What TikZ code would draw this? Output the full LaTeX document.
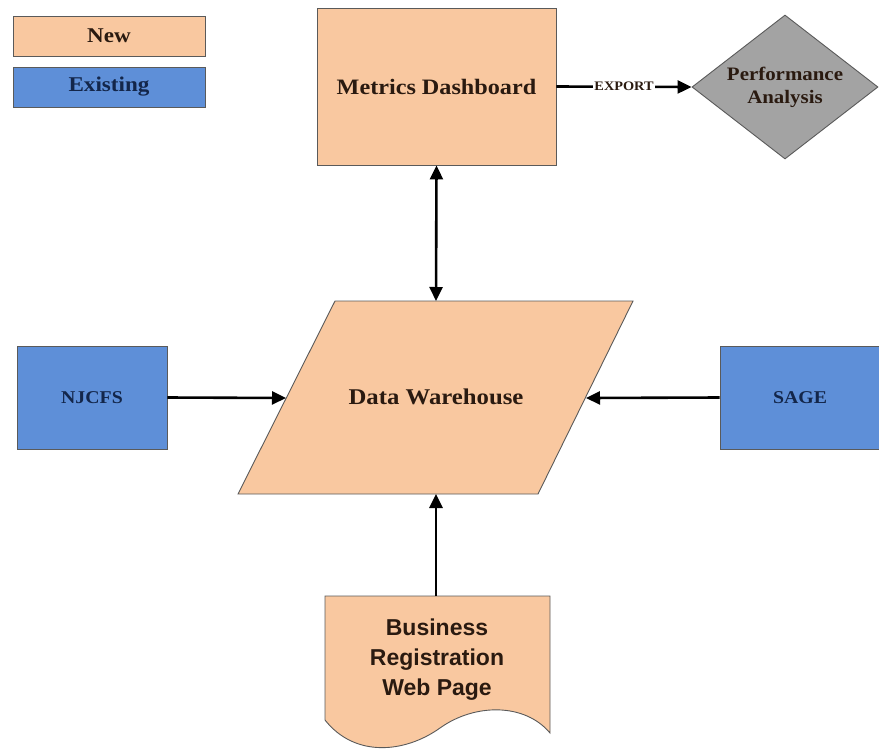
\documentclass[tikz,border=0pt]{standalone}
\usepackage{fontspec}
\setmainfont{Liberation Serif}[FakeStretch=1.1]
\newfontfamily\docsans{Liberation Sans}
\usetikzlibrary{arrows.meta,shapes.geometric}

\definecolor{peach}{HTML}{F9C8A0}
\definecolor{existblue}{HTML}{5E8FD8}
\definecolor{diagray}{HTML}{A3A3A3}
\definecolor{edgegray}{HTML}{5A5A5A}
\definecolor{darktext}{HTML}{2A1A10}
\definecolor{navytext}{HTML}{13264A}

\tikzset{
  newbox/.style={draw=edgegray, line width=0.9pt, fill=peach, inner sep=0pt,
    text=darktext, font=\bfseries},
  oldbox/.style={draw=edgegray, line width=0.9pt, fill=existblue, inner sep=0pt,
    text=navytext, font=\bfseries},
  conn/.style={line width=2.6pt, -{Triangle[length=14pt,width=13pt]}},
  biconn/.style={line width=2.6pt, {Triangle[length=14pt,width=13pt]}-{Triangle[length=14pt,width=13pt]}},
}

\begin{document}
\begin{tikzpicture}[x=1pt,y=-1pt]
\useasboundingbox (0,0) rectangle (879,753);

% legend
\node[newbox, minimum width=192pt, minimum height=40pt, font=\bfseries\fontsize{21}{24}\selectfont] (legnew) at (109,36) {New};
\node[oldbox, minimum width=192pt, minimum height=40pt, font=\bfseries\fontsize{21}{24}\selectfont] (legold) at (109,87) {Existing};

% metrics dashboard and analysis
\node[newbox, minimum width=239pt, minimum height=157pt, font=\bfseries\fontsize{22}{26}\selectfont] (md) at (436.5,86.5) {Metrics Dashboard};
\node[diamond, aspect=1.29, draw=edgegray, line width=0.9pt, fill=diagray, inner sep=0pt,
  minimum width=186pt, minimum height=144pt, text=darktext, align=center,
  font=\bfseries\fontsize{19}{23}\selectfont] (pa) at (785,87) {Performance\\Analysis};

% data warehouse (parallelogram)
\coordinate (dwT) at (436,301);
\coordinate (dwB) at (436,494);
\coordinate (dwL) at (286,398);
\coordinate (dwR) at (586,398);
\draw[draw=edgegray, line width=0.9pt, fill=peach] (335,301) -- (633,301) -- (538,494) -- (238,494) -- cycle;
\node[text=darktext, font=\bfseries\fontsize{22.5}{26}\selectfont] (dw) at (436,397) {Data Warehouse};

% existing sources
\node[oldbox, minimum width=150pt, minimum height=103pt, font=\bfseries\fontsize{18}{22}\selectfont] (nj) at (92,397.5) {NJCFS};
\node[oldbox, minimum width=160pt, minimum height=103pt, font=\bfseries\fontsize{18}{22}\selectfont] (sage) at (800,397.5) {SAGE};

% business registration web page (document shape)
\coordinate (docT) at (436,596);
\draw[draw=edgegray, line width=0.9pt, fill=peach]
  (325,596) -- (550,596) -- (550,733)
  .. controls (525,703) and (475,703) .. (440,728)
  .. controls (405,753) and (355,758) .. (325,720) -- cycle;
\node[text=darktext, align=center, font=\docsans\bfseries\fontsize{23}{30}\selectfont] (brw) at (437,660) {Business\\Registration\\Web Page};

% connectors
\draw[biconn] (md.south) -- (dwT);
\draw[conn] (md.east) -- (pa.west)
  node[midway, fill=white, inner sep=1pt, text=darktext, font=\bfseries\fontsize{13}{14}\selectfont] (exp) {EXPORT};
\draw[conn] (nj.east) -- (dwL);
\draw[conn] (sage.west) -- (dwR);
\draw[conn] (docT) -- (dwB);
\end{tikzpicture}
\end{document}
